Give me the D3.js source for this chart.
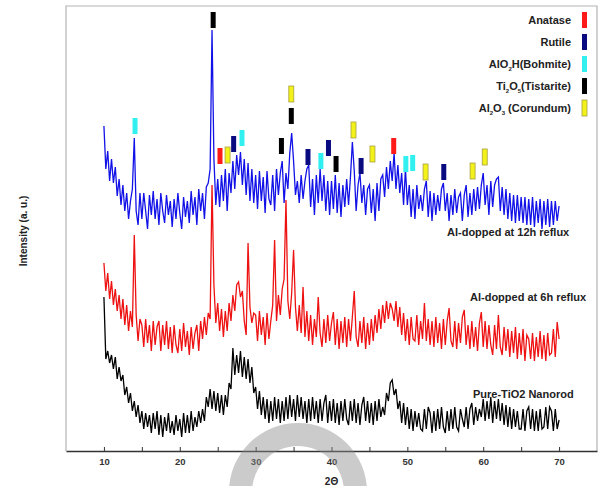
<!DOCTYPE html>
<html>
<head>
<meta charset="utf-8">
<script src="https://cdn.jsdelivr.net/npm/d3@7"></script>
<style>
  body { margin: 0; background: #fff; }
  svg { display: block; }
</style>
</head>
<body>
<div class="chart"></div>
<script>
// XRD patterns, 2θ from 10 to 70 in steps of 0.25 (one row per degree: .00 .25 .50 .75)
const angleStart = 10,
  angleStep = 0.25;

const blue12h = [
  325, 282, 300, 270, // 10
  292, 268, 284, 255, // 11
  272, 246, 266, 240, // 12
  258, 232, 250, 262, // 13
  313, 240, 226, 258, // 14
  232, 258, 240, 222, // 15
  256, 236, 260, 232, // 16
  252, 226, 258, 240, // 17
  228, 256, 236, 250, // 18
  224, 252, 232, 258, // 19
  238, 222, 254, 234, // 20
  250, 228, 260, 236, // 21
  254, 226, 262, 240, // 22
  258, 232, 264, 268, // 23
  282, 421, 292, 246, // 24
  272, 244, 276, 250, // 25
  282, 240, 278, 258, // 26
  290, 262, 296, 276, // 27
  299, 266, 292, 256, // 28
  288, 250, 282, 248, // 29
  276, 242, 280, 250, // 30
  274, 238, 280, 252, // 31
  246, 276, 240, 282, // 32
  256, 278, 290, 248, // 33
  278, 262, 298, 318, // 34
  290, 256, 270, 248, // 35
  276, 252, 270, 282, // 36
  286, 244, 272, 236, // 37
  276, 248, 282, 250, // 38
  276, 240, 270, 236, // 39
  270, 242, 276, 238, // 40
  268, 234, 266, 244, // 41
  272, 246, 274, 309, // 42
  280, 240, 266, 278, // 43
  248, 266, 236, 262, // 44
  266, 238, 262, 230, // 45
  268, 240, 272, 276, // 46
  254, 284, 262, 290, // 47
  270, 298, 262, 286, // 48
  258, 278, 246, 282, // 49
  246, 266, 234, 262, // 50
  232, 266, 242, 256, // 51
  240, 262, 270, 234, // 52
  260, 230, 258, 236, // 53
  256, 240, 262, 268, // 54
  240, 258, 230, 256, // 55
  236, 262, 238, 254, // 56
  258, 230, 256, 266, // 57
  234, 258, 236, 262, // 58
  240, 264, 242, 266, // 59
  278, 246, 266, 236, // 60
  270, 244, 266, 272, // 61
  274, 240, 264, 236, // 62
  262, 232, 258, 230, // 63
  256, 228, 256, 230, // 64
  254, 228, 254, 226, // 65
  252, 226, 254, 224, // 66
  250, 228, 252, 222, // 67
  250, 226, 252, 224, // 68
  250, 226, 250, 230, // 69
  245 // 70
];

const red6h = [
  188, 160, 178, 152, // 10
  170, 146, 162, 140, // 11
  156, 132, 152, 126, // 12
  146, 120, 140, 124, // 13
  216, 136, 110, 132, // 14
  126, 104, 132, 108, // 15
  126, 100, 130, 106, // 16
  124, 130, 100, 126, // 17
  106, 130, 102, 124, // 18
  98, 126, 106, 98, // 19
  122, 100, 128, 104, // 20
  120, 96, 124, 102, // 21
  118, 126, 100, 130, // 22
  112, 134, 116, 138, // 23
  132, 266, 166, 128, // 24
  148, 120, 142, 114, // 25
  140, 120, 148, 130, // 26
  156, 140, 166, 169, // 27
  154, 160, 130, 116, // 28
  208, 144, 128, 138, // 29
  136, 110, 140, 116, // 30
  134, 106, 138, 112, // 31
  130, 146, 211, 130, // 32
  156, 136, 162, 172, // 33
  251, 150, 132, 158, // 34
  201, 144, 120, 146, // 35
  118, 164, 114, 140, // 36
  110, 136, 106, 132, // 37
  114, 154, 118, 104, // 38
  132, 108, 136, 110, // 39
  128, 139, 106, 132, // 40
  102, 130, 108, 134, // 41
  104, 132, 110, 134, // 42
  160, 114, 104, 130, // 43
  108, 134, 102, 128, // 44
  106, 132, 110, 136, // 45
  118, 142, 122, 146, // 46
  128, 150, 132, 148, // 47
  142, 130, 150, 124, // 48
  144, 116, 138, 110, // 49
  132, 106, 134, 112, // 50
  110, 136, 106, 130, // 51
  112, 148, 110, 132, // 52
  106, 130, 104, 134, // 53
  108, 128, 102, 132, // 54
  106, 130, 143, 110, // 55
  104, 130, 102, 128, // 56
  108, 134, 141, 106, // 57
  126, 102, 130, 104, // 58
  124, 100, 128, 139, // 59
  104, 130, 102, 126, // 60
  106, 96, 126, 102, // 61
  136, 104, 96, 124, // 62
  100, 122, 94, 120, // 63
  98, 124, 92, 118, // 64
  96, 122, 90, 116, // 65
  112, 92, 118, 90, // 66
  114, 94, 120, 92, // 67
  116, 90, 118, 96, // 68
  98, 122, 94, 129, // 69
  112 // 70
];

const blackPure = [
  154, 92, 100, 88, // 10
  96, 82, 94, 72, // 11
  84, 70, 76, 56, // 12
  64, 48, 58, 40, // 13
  50, 34, 46, 28, // 14
  40, 22, 38, 24, // 15
  36, 18, 38, 22, // 16
  40, 16, 36, 14, // 17
  34, 20, 38, 18, // 18
  30, 16, 36, 20, // 19
  32, 14, 38, 18, // 20
  36, 18, 40, 20, // 21
  34, 24, 40, 28, // 22
  42, 30, 54, 44, // 23
  62, 42, 60, 40, // 24
  58, 38, 56, 36, // 25
  56, 44, 68, 62, // 26
  103, 76, 96, 78, // 27
  100, 74, 94, 72, // 28
  92, 68, 84, 58, // 29
  64, 42, 60, 36, // 30
  54, 32, 52, 28, // 31
  50, 30, 54, 32, // 32
  52, 28, 50, 30, // 33
  54, 32, 56, 34, // 34
  52, 30, 56, 34, // 35
  54, 32, 50, 28, // 36
  52, 30, 54, 32, // 37
  50, 28, 52, 30, // 38
  48, 56, 28, 50, // 39
  30, 52, 28, 48, // 40
  26, 50, 30, 52, // 41
  32, 26, 50, 30, // 42
  52, 28, 48, 26, // 43
  46, 54, 30, 50, // 44
  28, 48, 26, 50, // 45
  30, 52, 34, 44, // 46
  36, 58, 50, 68, // 47
  71, 56, 62, 42, // 48
  50, 28, 48, 26, // 49
  44, 22, 42, 20, // 50
  40, 24, 38, 22, // 51
  20, 42, 22, 44, // 52
  38, 18, 40, 20, // 53
  42, 22, 44, 24, // 54
  18, 40, 20, 42, // 55
  22, 44, 24, 20, // 56
  42, 32, 24, 44, // 57
  22, 42, 48, 26, // 58
  44, 30, 42, 34, // 59
  52, 30, 50, 32, // 60
  54, 28, 50, 32, // 61
  52, 30, 48, 26, // 62
  46, 24, 44, 22, // 63
  42, 24, 40, 22, // 64
  22, 42, 20, 40, // 65
  44, 22, 42, 20, // 66
  40, 20, 42, 22, // 67
  24, 44, 22, 44, // 68
  40, 20, 42, 22, // 69
  31 // 70
];

const seriesNames = ["Al-dopped at 12h reflux", "Al-dopped at 6h reflux", "Pure-TiO2 Nanorod"];
const seriesColors = ["#1212e8", "#ee1111", "#000000"];

// phase legend
const phases = ["Anatase", "Rutile", "AlO2H(Bohmite)", "Ti2O5(Tistarite)", "Al2O3 (Corundum)"];
const phaseColors = ["#ff1a1a", "#0a0a80", "#33f0f0", "#000000", "#f2f21a"];

// peak markers: phase index, 2θ, intensity level of marker centre
const markerPhase = [2, 3, 0, 4, 1, 2, 3, 4, 3, 1, 2, 1, 3, 4, 1, 4, 0, 2, 2, 4, 1, 4, 4];
const markerAngle = [14.1, 24.4, 25.3, 26.3, 27.1, 28.2, 33.4, 34.7, 34.7, 36.9, 38.6, 39.6, 40.6,
  42.9, 43.9, 45.4, 48.2, 49.8, 50.7, 52.4, 54.8, 58.6, 60.2];
const markerLevel = [325, 431, 295, 296, 307, 313, 305, 357, 335, 294, 290, 303, 287,
  321, 285, 297, 305, 287, 288, 279, 279, 280, 294];

const xTicks = [10, 15, 20, 25, 30, 35, 40, 45, 50, 55, 60, 65, 70];

function drawChart() {
  const width = 599,
    height = 486,
    left = 66,
    right = 597,
    top = 6,
    bottom = 451,
    font = "'Liberation Sans', Arial, sans-serif";

  const svg = d3
    .select(".chart")
    .append("svg")
    .attr("width", width)
    .attr("height", height)
    .style("font-family", font);

  const xScale = d3.scaleLinear().domain([5, 75]).range([left, right]);
  const yScale = d3.scaleLinear().domain([0, 445]).range([bottom, top]);

  // frame
  svg
    .append("path")
    .attr("d", `M${left},${bottom} V${top} H${right} V${bottom}`)
    .attr("fill", "none")
    .attr("stroke", "#b4b4b4")
    .attr("stroke-width", 1.2);

  const line = d3
    .line()
    .x((d) => xScale(d[0]))
    .y((d) => yScale(d[1]));

  const toPoints = (values) => values.map((v, i) => [angleStart + i * angleStep, v]);

  [blackPure, red6h, blue12h].forEach((values, i) => {
    svg
      .append("path")
      .attr("d", line(toPoints(values)))
      .attr("fill", "none")
      .attr("stroke", seriesColors[2 - i])
      .attr("stroke-width", 1.3);
  });

  // series labels
  const labelLevels = [219, 154, 57];
  svg
    .selectAll(".series-label")
    .data(seriesNames)
    .enter()
    .append("text")
    .attr("x", (d, i) => [447, 470, 473][i])
    .attr("y", (d, i) => yScale(labelLevels[i]) + 4)
    .text((d) => d)
    .style("font-size", "11px")
    .style("font-weight", "bold")
    .attr("fill", "#222");

  // phase markers
  svg
    .selectAll(".marker")
    .data(markerAngle)
    .enter()
    .append("rect")
    .attr("x", (d) => xScale(d) - 2.5)
    .attr("y", (d, i) => yScale(markerLevel[i]) - 8)
    .attr("width", 5)
    .attr("height", 16)
    .attr("fill", (d, i) => phaseColors[markerPhase[i]])
    .attr("stroke", (d, i) => (markerPhase[i] === 4 ? "#a8a040" : "none"))
    .attr("stroke-width", 0.8);

  // legend
  const legend = svg
    .selectAll(".legend")
    .data(phases)
    .enter()
    .append("g")
    .attr("transform", (d, i) => `translate(0, ${20 + i * 22})`);

  legend
    .append("rect")
    .attr("x", 582)
    .attr("y", -8)
    .attr("width", 5)
    .attr("height", 16)
    .attr("fill", (d, i) => phaseColors[i])
    .attr("stroke", (d, i) => (i === 4 ? "#a8a040" : "none"))
    .attr("stroke-width", 0.8);

  const legendText = legend
    .append("text")
    .attr("x", 571)
    .attr("y", 4)
    .attr("text-anchor", "end")
    .style("font-size", "11px")
    .style("font-weight", "bold")
    .attr("fill", "#222");

  // split names so the digits after element symbols become subscripts
  legendText.each(function (d) {
    const parts = d.match(/[A-Za-z() ]+|\d/g);
    const t = d3.select(this);
    let sub = false;
    parts.forEach((p) => {
      const isDigit = /\d/.test(p);
      t.append("tspan")
        .text(p)
        .attr("dy", isDigit ? (sub ? 0 : 3) : sub ? -3 : 0)
        .style("font-size", isDigit ? "6px" : null);
      sub = isDigit;
    });
  });

  // x axis
  const xAxis = d3
    .axisBottom(xScale)
    .tickValues(xTicks)
    .tickSizeInner(-4)
    .tickSizeOuter(0)
    .tickPadding(7)
    .tickFormat((d) => (d % 10 === 0 ? d : ""));

  const axisG = svg
    .append("g")
    .attr("transform", `translate(0, ${bottom})`)
    .call(xAxis);

  axisG.select(".domain").attr("stroke", "#333").attr("stroke-width", 1.5);
  axisG.selectAll(".tick line").attr("stroke", "#333");
  axisG
    .selectAll("text")
    .style("font", `bold 9.5px ${font}`)
    .attr("fill", "#333");

  svg
    .append("text")
    .attr("x", xScale(40))
    .attr("y", 485)
    .attr("text-anchor", "middle")
    .style("font-size", "10px")
    .style("font-weight", "bold")
    .attr("fill", "#222")
    .text("2Θ");

  svg
    .append("text")
    .attr("transform", `translate(27, 231) rotate(-90)`)
    .attr("text-anchor", "middle")
    .style("font-size", "10px")
    .style("font-weight", "bold")
    .attr("fill", "#222")
    .text("Intensity (a. u.)");

  // watermark ring
  const ring = d3.arc().innerRadius(46).outerRadius(69).startAngle(-Math.PI / 2).endAngle(Math.PI / 2);
  svg
    .append("path")
    .attr("d", ring())
    .attr("transform", "translate(298, 492)")
    .attr("fill", "#8c8c8c")
    .attr("opacity", 0.45);
}

drawChart();
</script>
</body>
</html>
